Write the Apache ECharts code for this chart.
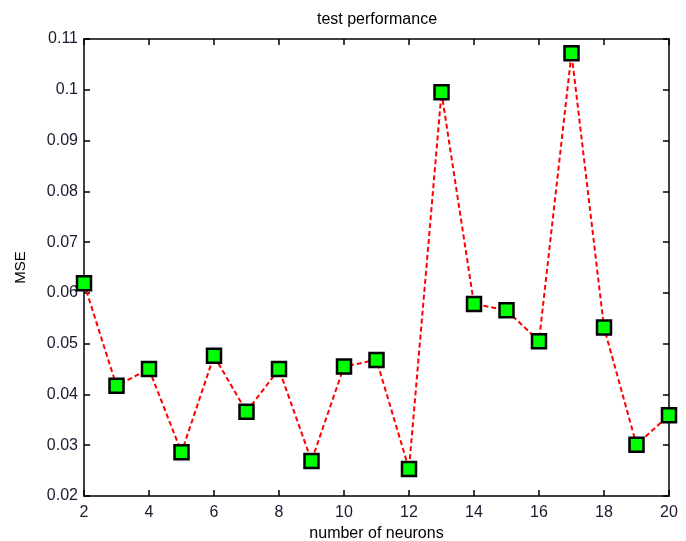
<!DOCTYPE html>
<html>
<head>
<meta charset="utf-8">
<script src="https://cdn.jsdelivr.net/npm/echarts@6/dist/echarts.min.js"></script>
<style>
html,body{margin:0;padding:0;background:#fff;}
#echart-box{width:686px;height:541px;}
</style>
</head>
<body>
<div id="echart-box"></div>
<script>
// number of neurons
const neurons = [2,3,4,5,6,7,8,9,10,11,12,13,14,15,16,17,18,19,20];
// test MSE
const mse = [0.0619,0.0417,0.0450,0.0286,0.0476,0.0366,0.0450,0.0269,0.0455,0.0468,0.0253,0.0995,0.0578,0.0566,0.0505,0.1072,0.0532,0.0301,0.0359];

function init(){
    const element = document.getElementById("echart-box");
    const instance = echarts.init(element);

    let points = neurons.map((n, i) => [n, mse[i]]);
    const font = "Liberation Sans";
    const axisLine = {show: true, lineStyle: {color: "#000", width: 1.5}};
    const tick = {show: true, inside: true, length: 6, lineStyle: {color: "#000", width: 1.5}};

    let option = {
        animation: false,
        title: {
            text: "test performance",
            left: 372,
            top: 7,
            textAlign: "center",
            textStyle: {fontFamily: font, fontSize: 16, fontWeight: "normal", color: "#000"}
        },
        // 关闭 v6 的外边界自动收缩，保持固定绘图区
        grid: {left: 84, top: 39, right: 17, bottom: 45, outerBoundsMode: "none"},
        xAxis: [
            {
                type: "value", min: 2, max: 20, interval: 2,
                name: "number of neurons", nameLocation: "middle", nameGap: 29,
                nameTextStyle: {fontFamily: font, fontSize: 16, color: "#000"},
                axisLine: axisLine, axisTick: tick, splitLine: {show: false},
                axisLabel: {fontFamily: font, fontSize: 16, color: "#1a1a2e", margin: 9}
            },
            {
                type: "value", min: 2, max: 20, interval: 2, position: "top",
                axisLine: axisLine, axisTick: tick, splitLine: {show: false},
                axisLabel: {show: false}
            }
        ],
        yAxis: [
            {
                type: "value", min: 0.02, max: 0.11, interval: 0.01,
                name: "MSE", nameLocation: "middle", nameGap: 56, nameRotate: 90,
                nameTextStyle: {fontFamily: font, fontSize: 15, color: "#000"},
                axisLine: axisLine, axisTick: tick, splitLine: {show: false},
                axisLabel: {fontFamily: font, fontSize: 16, color: "#1a1a2e", margin: 6,
                    formatter: v => String(parseFloat(v.toFixed(2)))}
            },
            {
                type: "value", min: 0.02, max: 0.11, interval: 0.01, position: "right",
                axisLine: axisLine, axisTick: tick, splitLine: {show: false},
                axisLabel: {show: false}
            }
        ],
        series: [
            {
                type: "line",
                data: points,
                symbol: "rect",
                symbolSize: 14,
                itemStyle: {color: "#00ff00", borderColor: "#000", borderWidth: 2.5},
                lineStyle: {color: "#ff0000", width: 2, type: [5, 3]}
            }
        ]
    };

    instance && instance.setOption(option);
}
init();
</script>
</body>
</html>
